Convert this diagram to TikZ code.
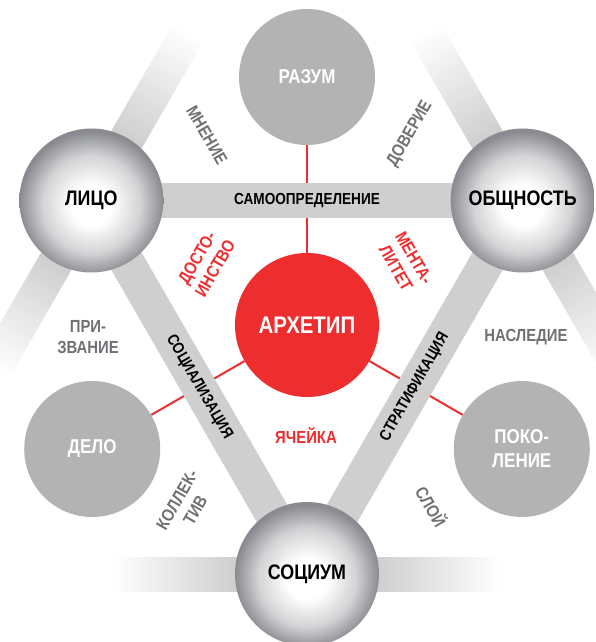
\documentclass[tikz,border=0pt]{standalone}
\usepackage{fontspec}
\setmainfont{Liberation Sans}[FakeStretch=0.85]
\usetikzlibrary{calc, backgrounds}
\definecolor{archred}{RGB}{237,45,46}
\definecolor{bargray}{RGB}{207,207,207}
\definecolor{discgray}{RGB}{179,179,179}
\definecolor{labelgray}{RGB}{112,113,116}
\definecolor{balledge}{RGB}{138,139,144}
\pgfdeclareradialshading{ballshade}{\pgfpoint{0bp}{-2bp}}{color(0bp)=(white); color(7bp)=(white); color(17bp)=(balledge!38!white); color(25bp)=(balledge); color(50bp)=(balledge)}

\begin{document}
\begin{tikzpicture}[
  x=1pt, y=1pt,
  ball/.style={circle, minimum size=144pt, inner sep=0pt, shade, shading=ballshade, font=\fontsize{21}{23}\selectfont\bfseries},
  disc/.style={circle, minimum size=136pt, inner sep=0pt, fill=discgray, text=white, align=center, font=\fontsize{20}{24}\selectfont\bfseries},
  core/.style={circle, minimum size=144pt, inner sep=0pt, fill=archred, text=white, font=\fontsize{24}{26}\selectfont\bfseries},
  bar/.style={line width=35pt, bargray},
  barlabel/.style={text=black, font=\fontsize{16}{18}\selectfont\bfseries},
  link/.style={archred, line width=2pt},
  note/.style={text=labelgray, align=center, font=\fontsize{17.5}{21}\selectfont\bfseries},
  rednote/.style={note, text=archred},
]
\useasboundingbox (-307,-317) rectangle (289,325);

% the hexagon
\node[core] (arch) at (0,0) {АРХЕТИП};
\node[ball] (lico) at (150:249) {ЛИЦО};
\node[ball] (obsh) at (30:249) {ОБЩНОСТЬ};
\node[ball] (soc) at (270:249) {СОЦИУМ};
\node[disc] (razum) at (90:248) {РАЗУМ};
\node[disc] (delo) at (210:248) {ДЕЛО};
\node[disc] (pokol) at (330:248) {ПОКО-\\ЛЕНИЕ};

% labels between the circles
\node[note, rotate=-60] (mnenie) at (-100,190) {МНЕНИЕ};
\node[note, rotate=60] (dover) at (103,191) {ДОВЕРИЕ};
\node[rednote, rotate=60] (dost) at (-101,62) {ДОСТО-\\ИНСТВО};
\node[rednote, rotate=-60] (menta) at (98,62) {МЕНТА-\\ЛИТЕТ};
\node[note] (prizv) at (-219,-12) {ПРИ-\\ЗВАНИЕ};
\node[note] (nasl) at (219,-12) {НАСЛЕДИЕ};
\node[rednote] (yach) at (-1,-111) {ЯЧЕЙКА};
\node[note, rotate=60] (kollek) at (-121,-180) {КОЛЛЕК-\\ТИВ};
\node[note, rotate=-60] (sloy) at (125,-181) {СЛОЙ};

\begin{scope}[on background layer]
  \draw[link] (razum) -- (arch);
  \draw[link] (delo) -- (arch);
  \draw[link] (pokol) -- (arch);

  % bars fading out
  \foreach \ball/\dir in {lico/60, lico/240, obsh/120, obsh/300, soc/180, soc/0}{
    \foreach \d in {70,73,...,190}{
      \pgfmathsetmacro{\fadeamt}{100*(193-\d)/123}
      \pgfmathsetmacro{\dnext}{\d+3.6}
      \draw[line width=35pt, bargray!\fadeamt!white] ($(\ball.center)+(\dir:\d)$) -- ($(\ball.center)+(\dir:\dnext)$);
    }
  }

  \draw[bar] (lico.center) -- node[barlabel] {САМООПРЕДЕЛЕНИЕ} (obsh.center);
  \draw[bar] (lico.center) -- node[barlabel, sloped] {СОЦИАЛИЗАЦИЯ} (soc.center);
  \draw[bar] (soc.center) -- node[barlabel, sloped] {СТРАТИФИКАЦИЯ} (obsh.center);
\end{scope}
\end{tikzpicture}
\end{document}
